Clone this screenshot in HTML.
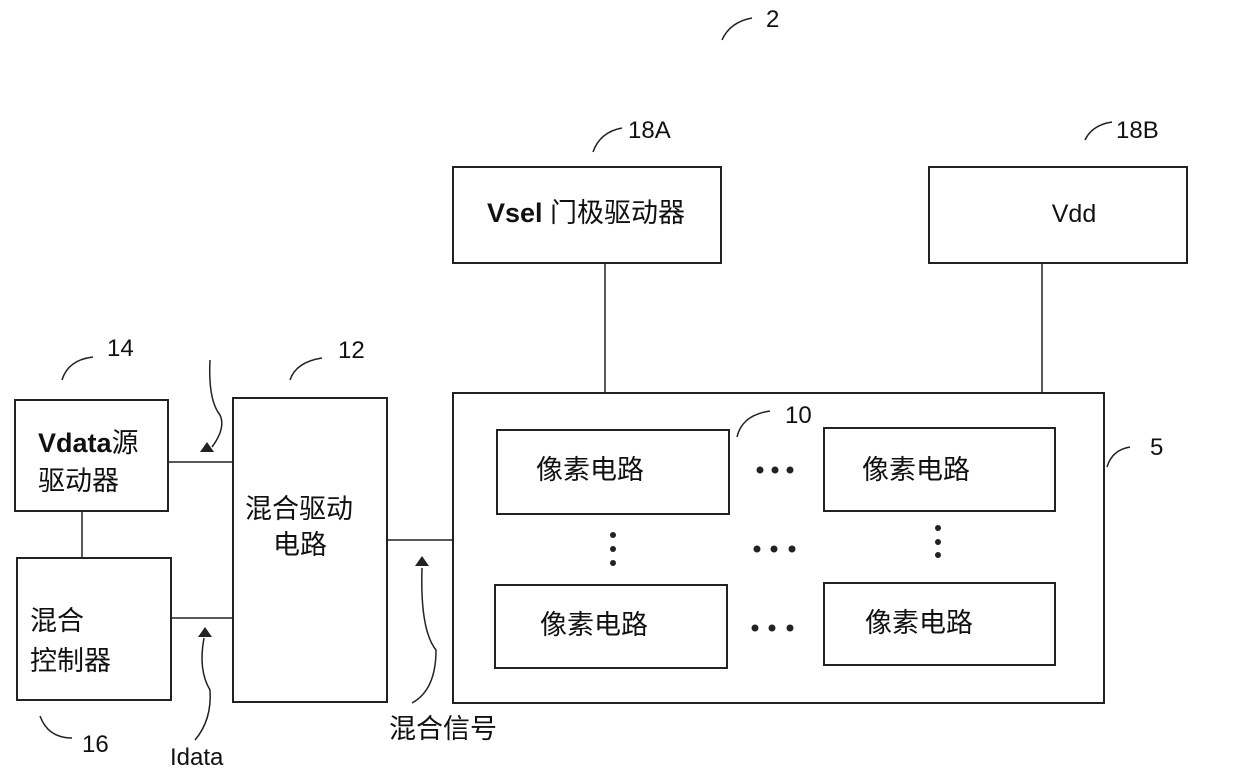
<!DOCTYPE html>
<html><head><meta charset="utf-8"><style>
body{margin:0;background:#fff}
svg{display:block}
text{font-family:"Liberation Sans","Noto Sans CJK SC",sans-serif;fill:#111}
</style></head><body>
<svg width="1240" height="779" viewBox="0 0 1240 779">
<g fill="none" stroke="#222" stroke-width="2">
<rect x="453" y="167" width="268" height="96"/>
<rect x="929" y="167" width="258" height="96"/>
<rect x="15" y="400" width="153" height="111"/>
<rect x="17" y="558" width="154" height="142"/>
<rect x="233" y="398" width="154" height="304"/>
<rect x="453" y="393" width="651" height="310"/>
<rect x="497" y="430" width="232" height="84"/>
<rect x="824" y="428" width="231" height="83"/>
<rect x="495" y="585" width="232" height="83"/>
<rect x="824" y="583" width="231" height="82"/>
<g stroke-width="1.5">
<line x1="605" y1="263" x2="605" y2="393"/>
<line x1="1042" y1="263" x2="1042" y2="393"/>
<line x1="168" y1="462" x2="233" y2="462"/>
<line x1="171" y1="618" x2="233" y2="618"/>
<line x1="82" y1="511" x2="82" y2="558"/>
<line x1="387" y1="540" x2="453" y2="540"/>
<path d="M722 40 Q730 22 752 18"/>
<path d="M593 152 Q600 132 622 128"/>
<path d="M1085 140 Q1092 125 1112 122"/>
<path d="M62 380 Q68 360 93 357"/>
<path d="M290 380 Q296 362 322 358"/>
<path d="M737 437 Q742 415 770 411"/>
<path d="M1107 467 Q1112 450 1130 447"/>
<path d="M40 716 Q48 738 72 738"/>
<path d="M210 360 Q208 400 220 415 Q226 428 212 447"/>
<path d="M195 740 Q212 720 210 690 Q198 670 204 638"/>
<path d="M412 703 Q436 690 436 650 Q420 630 422 568"/>
</g>
</g>
<g fill="#222">
<polygon points="207,442 200,452 214,452"/>
<polygon points="205,627 198,637 212,637"/>
<polygon points="422,556 415,566 429,566"/>
<circle cx="760" cy="470" r="3.5"/><circle cx="775" cy="470" r="3.5"/><circle cx="790" cy="470" r="3.5"/>
<circle cx="757" cy="549" r="3.5"/><circle cx="774" cy="549" r="3.5"/><circle cx="792" cy="549" r="3.5"/>
<circle cx="755" cy="628" r="3.5"/><circle cx="772" cy="628" r="3.5"/><circle cx="790" cy="628" r="3.5"/>
<circle cx="613" cy="535" r="3"/><circle cx="613" cy="549" r="3"/><circle cx="613" cy="563" r="3"/>
<circle cx="938" cy="528" r="3"/><circle cx="938" cy="542" r="3"/><circle cx="938" cy="555" r="3"/>
</g>
<g font-size="24">
<text x="766" y="27">2</text>
<text x="628" y="138">18A</text>
<text x="1116" y="138">18B</text>
<text x="107" y="356">14</text>
<text x="338" y="358">12</text>
<text x="785" y="423">10</text>
<text x="1150" y="455">5</text>
<text x="82" y="752">16</text>
<text x="170" y="765">Idata</text>
</g>
<g font-size="27">
<text x="389" y="738">混合信号</text>
<text x="487" y="222"><tspan font-weight="bold">Vsel</tspan> 门极驱动器</text>
<text x="1074" y="222" text-anchor="middle" font-size="25">Vdd</text>
<text x="38" y="452"><tspan font-weight="bold">Vdata</tspan>源</text>
<text x="38" y="490">驱动器</text>
<text x="30" y="630">混合</text>
<text x="30" y="670">控制器</text>
<text x="245" y="518">混合驱动</text>
<text x="273" y="554">电路</text>
<text x="536" y="479">像素电路</text>
<text x="862" y="479">像素电路</text>
<text x="540" y="634">像素电路</text>
<text x="865" y="632">像素电路</text>
</g>
</svg>
</body></html>
